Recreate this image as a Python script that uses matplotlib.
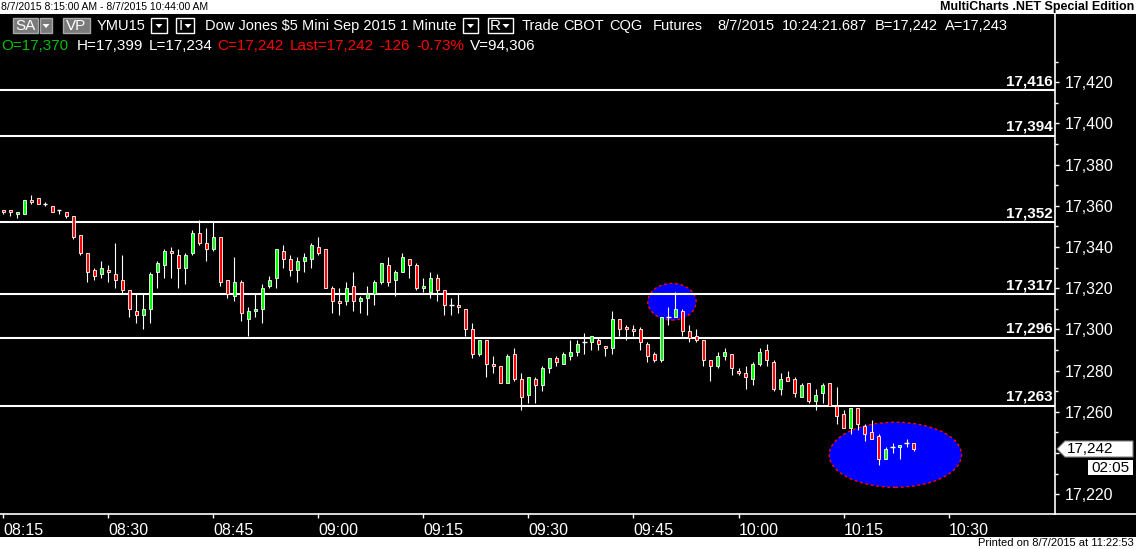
import matplotlib
matplotlib.use('Agg')
import matplotlib.pyplot as plt
import matplotlib.transforms as mtransforms
from matplotlib.patches import Rectangle, Polygon, Ellipse
from matplotlib.lines import Line2D
from matplotlib.ticker import FuncFormatter, FixedLocator

plt.rcParams['font.family'] = ['Liberation Sans', 'DejaVu Sans']

# 1-minute bars, 08:15 -> 10:25
opens = [17358, 17358, 17356, 17356, 17363, 17364, 17361, 17360, 17358, 17357,
         17355, 17346, 17337, 17329, 17327, 17329, 17327, 17324, 17319, 17309,
         17307, 17310, 17328, 17331, 17338, 17336, 17330, 17337, 17347, 17342,
         17339, 17345, 17324, 17316, 17323, 17305, 17309, 17310, 17321, 17325,
         17338, 17334, 17329, 17333, 17334, 17340, 17339, 17320, 17314, 17314,
         17321, 17314, 17315, 17317, 17323, 17331, 17324, 17328, 17334, 17331,
         17320, 17318, 17325, 17319, 17312, 17312, 17310, 17300, 17288, 17295,
         17283, 17282, 17274, 17288, 17276, 17268, 17276, 17273, 17281, 17286,
         17283, 17287, 17289, 17294, 17294, 17295, 17292, 17291, 17305, 17301,
         17300, 17300, 17293, 17288, 17285, 17306, 17306, 17309, 17299, 17297,
         17295, 17285, 17282, 17287, 17288, 17280, 17279, 17276, 17283, 17290,
         17284, 17271, 17277, 17276, 17267, 17274, 17265, 17269, 17274, 17263,
         17259, 17252, 17262, 17253, 17250, 17248, 17237, 17243, 17243, 17245,
         17245]
highs = [17358, 17358, 17357, 17363, 17365, 17364, 17362, 17360, 17358, 17357,
         17355, 17346, 17337, 17330, 17333, 17331, 17342, 17336, 17319, 17317,
         17317, 17328, 17333, 17339, 17340, 17339, 17337, 17348, 17353, 17349,
         17352, 17345, 17324, 17335, 17324, 17311, 17317, 17322, 17326, 17339,
         17341, 17336, 17335, 17337, 17342, 17345, 17339, 17321, 17320, 17323,
         17328, 17316, 17321, 17324, 17332, 17335, 17329, 17337, 17334, 17332,
         17325, 17328, 17327, 17319, 17315, 17317, 17310, 17303, 17295, 17295,
         17287, 17282, 17288, 17291, 17279, 17277, 17277, 17282, 17286, 17287,
         17289, 17295, 17295, 17298, 17297, 17296, 17292, 17309, 17305, 17302,
         17302, 17301, 17294, 17289, 17306, 17311, 17318, 17310, 17302, 17300,
         17295, 17285, 17289, 17291, 17288, 17281, 17282, 17284, 17291, 17293,
         17285, 17279, 17280, 17277, 17274, 17274, 17271, 17274, 17274, 17272,
         17261, 17262, 17262, 17254, 17256, 17249, 17243, 17245, 17244, 17247,
         17245]
lows = [17356, 17355, 17354, 17356, 17361, 17361, 17360, 17357, 17356, 17354,
        17344, 17336, 17323, 17324, 17325, 17323, 17320, 17317, 17306, 17303,
        17300, 17303, 17320, 17325, 17325, 17320, 17322, 17336, 17341, 17333,
        17338, 17321, 17315, 17314, 17304, 17297, 17306, 17303, 17320, 17320,
        17330, 17326, 17323, 17328, 17330, 17336, 17320, 17308, 17307, 17312,
        17309, 17308, 17307, 17312, 17322, 17321, 17316, 17328, 17325, 17319,
        17318, 17315, 17314, 17307, 17307, 17308, 17297, 17286, 17287, 17277,
        17279, 17274, 17274, 17275, 17261, 17264, 17264, 17270, 17279, 17282,
        17283, 17285, 17287, 17288, 17290, 17290, 17287, 17288, 17297, 17295,
        17297, 17290, 17284, 17284, 17284, 17302, 17306, 17297, 17294, 17294,
        17282, 17275, 17281, 17285, 17278, 17278, 17271, 17273, 17282, 17282,
        17270, 17268, 17275, 17267, 17267, 17264, 17261, 17264, 17263, 17254,
        17252, 17249, 17251, 17246, 17247, 17234, 17237, 17240, 17237, 17243,
        17241]
closes = [17357, 17357, 17357, 17363, 17362, 17361, 17361, 17357, 17358, 17355,
          17345, 17337, 17328, 17326, 17330, 17328, 17324, 17319, 17310, 17307,
          17310, 17327, 17332, 17338, 17337, 17330, 17336, 17347, 17342, 17339,
          17345, 17323, 17317, 17323, 17308, 17309, 17310, 17320, 17324, 17339,
          17334, 17329, 17333, 17335, 17341, 17337, 17320, 17314, 17313, 17320,
          17314, 17315, 17317, 17323, 17332, 17323, 17328, 17335, 17331, 17320,
          17321, 17325, 17319, 17312, 17312, 17311, 17300, 17288, 17295, 17283,
          17282, 17274, 17287, 17276, 17267, 17277, 17273, 17281, 17286, 17284,
          17288, 17289, 17293, 17294, 17297, 17293, 17291, 17305, 17300, 17300,
          17299, 17294, 17287, 17285, 17306, 17306, 17310, 17299, 17296, 17295,
          17285, 17282, 17287, 17289, 17281, 17279, 17277, 17283, 17289, 17285,
          17271, 17276, 17275, 17269, 17273, 17265, 17268, 17273, 17263, 17258,
          17252, 17262, 17254, 17249, 17247, 17237, 17242, 17243, 17244, 17245,
          17242]

levels = [17416, 17394, 17352, 17317, 17296, 17263]
price_ticks = [17220, 17240, 17260, 17280, 17300, 17320, 17340, 17360, 17380, 17400, 17420]
last_price = 17242
time_labels = ['08:15', '08:30', '08:45', '09:00', '09:15', '09:30',
               '09:45', '10:00', '10:15', '10:30']
# highlighted zones: (center minute, center price, width minutes, height points)
zones = [(95.5, 17313.4, 6.9, 17.8), (127.4, 17239.1, 18.9, 31.6)]

W, H = 1136, 549
fig = plt.figure(figsize=(W / 100, H / 100), dpi=100, facecolor='white')
pix = mtransforms.Affine2D().scale(1 / W, -1 / H).translate(0, 1) + fig.transFigure

fig.patches.append(Rectangle((0, 14), W, 523, transform=pix, fc='black', ec='none', zorder=-5))

ax = fig.add_axes([0, 1 - 514.3 / H, 1055 / W, 500.3 / H])
ax.set_facecolor('black')
ax.set_xlim(-0.47, 150.2)
ax.set_ylim(17210.2, 17453.1)

for cx, cy, w, h in zones:
    ax.add_patch(Ellipse((cx, cy), w, h, fc='#0000ff', ec='red', lw=1.0,
                         ls=(0, (2, 2)), zorder=1))

for lv in levels:
    ax.axhline(lv, color='white', lw=1.5, zorder=2)
    ax.annotate(f"{lv:,}", xy=(1, lv), xycoords=('axes fraction', 'data'),
                xytext=(-1.5, 1.5), textcoords='offset points', ha='right', va='bottom',
                color='white', fontsize=11, fontweight='bold', zorder=5)

xs = list(range(len(opens)))
ax.vlines(xs, lows, highs, colors='white', lw=0.8, zorder=3)
bx, bb, bh, bc = [], [], [], []
dx, dy = [], []
for i, (o, c) in enumerate(zip(opens, closes)):
    if c == o:
        dx.append(i)
        dy.append(c)
    else:
        bx.append(i)
        bb.append(min(o, c))
        bh.append(abs(c - o))
        bc.append('#00ff00' if c > o else '#ff0000')
ax.bar(bx, bh, bottom=bb, width=0.5, color=bc, edgecolor='white', linewidth=0.6, zorder=4)
ax.hlines(dy, [x - 0.3 for x in dx], [x + 0.3 for x in dx], colors='white', lw=1.0, zorder=4)

for s in ['top', 'left']:
    ax.spines[s].set_visible(False)
for s in ['right', 'bottom']:
    ax.spines[s].set_color('white')
    ax.spines[s].set_linewidth(1.2)


def price_fmt(v, p):
    # the 17,240 label sits under the last-price marker
    if abs(v - last_price) < 5:
        return ''
    return f"{int(v):,}"


ax.yaxis.tick_right()
ax.set_yticks(price_ticks)
ax.yaxis.set_minor_locator(FixedLocator([v + 10 for v in price_ticks]))
ax.yaxis.set_major_formatter(FuncFormatter(price_fmt))
ax.tick_params(axis='y', which='major', colors='white', length=3, width=1, pad=4, labelsize=11.5)
ax.tick_params(axis='y', which='minor', colors='white', length=2, width=1)

ax.set_xticks(range(0, 136, 15))
ax.set_xticklabels(time_labels, ha='left')
ax.tick_params(axis='x', colors='white', length=3, width=1, pad=3, labelsize=11.5)

fig.lines.append(Line2D([1055, W], [514.3, 514.3], transform=pix, color='white', lw=1.2))

# current price marker
fig.patches.append(Polygon([(1057, 449), (1065, 441), (1133, 441), (1133, 457), (1065, 457)],
                           closed=True, transform=pix, fc='white', ec='#808080', lw=0.8, zorder=6))
fig.text(1067, 449, f"{last_price:,}", transform=pix, color='black', fontsize=11, va='center', zorder=7)
fig.patches.append(Rectangle((1088, 460), 45, 15, transform=pix, fc='white', ec='none', zorder=6))
fig.text(1091, 468, '02:05', transform=pix, color='black', fontsize=11, va='center', zorder=7)

# top / bottom strips
fig.text(1, 7, '8/7/2015 8:15:00 AM - 8/7/2015 10:44:00 AM', transform=pix, fontsize=7.5,
         color='black', va='center')
fig.text(1134, 7, 'MultiCharts .NET Special Edition', transform=pix, fontsize=9,
         fontweight='bold', color='black', va='center', ha='right')
fig.text(1134, 543, 'Printed on 8/7/2015 at 11:22:53', transform=pix, fontsize=8,
         color='black', va='center', ha='right')


def tri(cx, cy):
    fig.patches.append(Polygon([(cx - 3.5, cy - 1.5), (cx + 3.5, cy - 1.5), (cx, cy + 2.5)],
                               closed=True, transform=pix, fc='white', ec='none', zorder=8))


def box(x0, x1, fc, ec):
    fig.patches.append(Rectangle((x0, 18), x1 - x0, 15, transform=pix, fc=fc, ec=ec, lw=1, zorder=7))


box(12.7, 38.3, '#7a7a7a', '#a8a8a8')
fig.text(25.5, 26, 'SA', transform=pix, color='white', fontsize=11, ha='center', va='center', zorder=9)
box(39.7, 52, '#7a7a7a', '#a8a8a8')
tri(46, 25.5)
box(63, 90, '#7a7a7a', '#a8a8a8')
fig.text(76.5, 26, 'VP', transform=pix, color='white', fontsize=11, ha='center', va='center', zorder=9)
box(151, 167, 'black', 'white')
tri(159, 25.5)
box(176, 194, 'black', 'white')
fig.text(179, 26, 'I', transform=pix, color='white', fontsize=11, va='center', zorder=9)
tri(188, 25.5)
box(463, 478, 'black', 'white')
tri(470.5, 25.5)
box(487.5, 513, 'black', 'white')
fig.text(489.5, 26, 'R', transform=pix, color='white', fontsize=11, va='center', zorder=9)
tri(506, 25.5)

row1 = [(97, 'YMU15'), (204.6, 'Dow Jones $5 Mini Sep 2015'), (400, '1 Minute'),
        (522, 'Trade'), (563.7, 'CBOT'), (609.6, 'CQG'), (653, 'Futures'),
        (717, '8/7/2015'), (782, '10:24:21.687'), (875, 'B=17,242'), (944.6, 'A=17,243')]
for x, s in row1:
    fig.text(x, 26, s, transform=pix, color='white', fontsize=10.5, va='center', zorder=9)

green, red = '#00c000', '#ff0000'
row2 = [(1, 'O=17,370', green), (77, 'H=17,399', 'white'), (149, 'L=17,234', 'white'),
        (217, 'C=17,242', red), (290, 'Last=17,242', red), (379, '-126', red),
        (416, '-0.73%', red), (470, 'V=94,306', 'white')]
for x, s, col in row2:
    fig.text(x, 46, s, transform=pix, color=col, fontsize=11, va='center', zorder=9)

fig.savefig('out.png', dpi=100, facecolor=fig.get_facecolor())
